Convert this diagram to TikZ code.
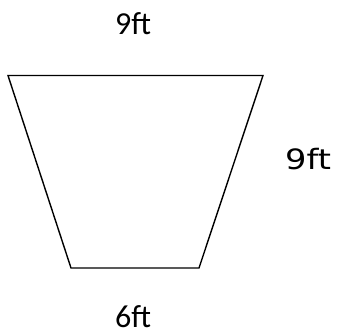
\documentclass[tikz,border=0pt]{standalone}
\usepackage{fontspec}
\setmainfont{Carlito}
\newfontfamily\handfont{DejaVu Sans}
\begin{document}
\begin{tikzpicture}[x=1pt,y=-1pt,
  edge/.style={line width=1.4pt, line join=miter},
  lbl/.style={inner sep=0pt, anchor=base west, text depth=0pt, font=\fontsize{32}{35}\selectfont},
  sidelbl/.style={inner sep=0pt, anchor=base west, text depth=0pt, font=\handfont\fontsize{28}{31}\selectfont, xscale=1.2}]
\useasboundingbox (0,0) rectangle (342,335);
\coordinate (tl) at (8,75.5);
\coordinate (tr) at (263,75.5);
\coordinate (br) at (199,268);
\coordinate (bl) at (71,268);
\draw[edge] (tl) -- (tr) -- (br) -- (bl) -- cycle;
\node[lbl] (top) at (115,34) {9ft};
\node[sidelbl] (side) at (285,169) {9ft};
\node[lbl] (bot) at (115,327) {6ft};
\end{tikzpicture}
\end{document}
